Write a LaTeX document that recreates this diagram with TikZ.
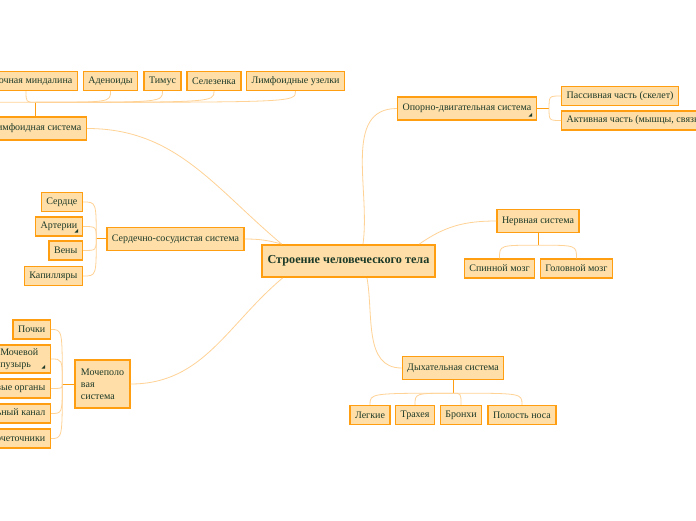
\documentclass[tikz,border=0pt]{standalone}
\usepackage{fontspec}
\setmainfont{Liberation Serif}
\usepackage{tikz}
\usetikzlibrary{calc}
\definecolor{boxc}{RGB}{255,158,16}
\definecolor{fillc}{RGB}{255,222,168}
\definecolor{linkc}{RGB}{255,210,150}
\definecolor{txtc}{RGB}{28,58,40}
\tikzset{
  leaf/.style   = {draw=boxc, line width=1.4pt, fill=fillc, text=txtc,
                   font=\fontsize{10}{12}\selectfont, inner xsep=5pt, inner ysep=0pt,
                   minimum height=19pt},
  branch/.style = {leaf, minimum height=23pt},
  root/.style   = {leaf, line width=2pt, minimum height=32pt, inner xsep=6pt,
                   font=\fontsize{12.2}{14}\selectfont\bfseries},
  link/.style   = {draw=linkc, line width=0.8pt},
  stem/.style   = {draw=boxc, line width=1pt},
  fold/.style   = {fill=txtc},
}

\begin{document}
\begin{tikzpicture}[x=1pt,y=1pt]
\useasboundingbox (0,0) rectangle (696,520);
\fill[white] (0,0) rectangle (696,520);
\clip (0,0) rectangle (696,520);

% centre
\node[root] (root) at (348.5,259) {Строение человеческого тела};

% right side
\node[branch] (opora) at (467,411.5) {Опорно-двигательная система};
\node[leaf, anchor=west] (passive) at (561,424) {Пассивная часть (скелет)};
\node[leaf, anchor=west] (active) at (561,399.5) {Активная часть (мышцы, связки)};

\node[branch] (nerv) at (538,299) {Нервная система};
\node[leaf] (spinal) at (499.5,251.5) {Спинной мозг};
\node[leaf] (brain) at (576.5,251.5) {Головной мозг};

\node[branch] (resp) at (453,152) {Дыхательная система};
\node[leaf] (lungs) at (370,105) {Легкие};
\node[leaf] (trachea) at (415,105) {Трахея};
\node[leaf] (bronchi) at (461,105) {Бронхи};
\node[leaf] (nose) at (522,105) {Полость носа};

% left side
\node[leaf, minimum width=55pt, minimum height=48pt, align=left] (uro) at (102.5,136)
  {Мочеполо\\вая\\система};
\node[leaf, anchor=east] (kidneys) at (51,190.5) {Почки};
\node[leaf, anchor=east, minimum height=28pt, text width=45pt, align=left] (bladder) at (51,161)
  {Мочевой\\пузырь};
\node[leaf, anchor=east] (genital) at (51,131.5) {Половые органы};
\node[leaf, anchor=east] (urethra) at (51,106.5) {Мочеиспускательный канал};
\node[leaf, anchor=east] (ureters) at (51,81.5) {Мочеточники};

\node[branch] (cardio) at (175.5,281) {Сердечно-сосудистая система};
\node[leaf, anchor=east] (heart) at (83,318) {Сердце};
\node[leaf, anchor=east] (arteries) at (83,293.5) {Артерии};
\node[leaf, anchor=east] (veins) at (83,269.5) {Вены};
\node[leaf, anchor=east] (caps) at (83,244) {Капилляры};

\node[branch, anchor=east] (lymph) at (87,391.5) {Лимфоидная система};
\node[leaf, anchor=east] (tonsil) at (78,439) {Глоточная миндалина};
\node[leaf] (adenoids) at (110.5,439) {Аденоиды};
\node[leaf] (thymus) at (162.5,439) {Тимус};
\node[leaf] (spleen) at (214,439) {Селезенка};
\node[leaf] (lnodes) at (295.5,439) {Лимфоидные узелки};
\coordinate (lhidden) at (-70,429.5);

% fold markers
\fill[fold] ($(arteries.south east)+(-5,4)$) -- ++(0,3.5) -- ++(-3.5,-3.5) -- cycle;
\fill[fold] ($(opora.south east)+(-5,4)$) -- ++(0,3.5) -- ++(-3.5,-3.5) -- cycle;
\fill[fold] ($(bladder.south east)+(-6,5)$) -- ++(0,3.5) -- ++(-3.5,-3.5) -- cycle;

% main branches
\draw[link] (lymph.east) to[out=0,in=140] ($(root.north west)+(21,0)$);
\draw[link] (cardio.east) to[out=0,in=165] ($(root.north west)+(21,0)$);
\draw[link] (uro.east) to[out=0,in=220] ($(root.south west)+(22,0)$);
\draw[link] ($(root.north)+(14.5,0)$) to[out=82,in=180] (opora.west);
\draw[link] ($(root.north east)+(-17,0)$) to[out=35,in=180] (nerv.west);
\draw[link] ($(root.south)+(18.5,0)$) to[out=-80,in=180] (resp.west);

% sub-branch junctions
\coordinate (lj) at ($(lymph.north)+(0,14)$);
\coordinate (cj) at ($(cardio.west)+(-10,0)$);
\coordinate (uj) at ($(uro.west)+(-12,0)$);
\coordinate (oj) at ($(opora.east)+(12,0)$);
\coordinate (nj) at ($(nerv.south)+(0,-12)$);
\coordinate (rj) at ($(resp.south)+(0,-13)$);

\draw[stem] (lymph.north) -- (lj);
\draw[stem] (cardio.west) -- (cj);
\draw[stem] (uro.west) -- (uj);
\draw[stem] (opora.east) -- (oj);
\draw[stem] (nerv.south) -- (nj);
\draw[stem] (resp.south) -- (rj);

\foreach \c in {tonsil,adenoids,thymus,spleen,lnodes}
  \draw[link] (lj) .. controls (lj -| \c.south) .. (\c.south);
\draw[link] (lj) .. controls (lj -| lhidden) .. (lhidden);
\foreach \c in {heart,arteries,veins,caps}
  \draw[link] (cj) .. controls (cj |- \c.east) .. (\c.east);
\foreach \c in {kidneys,bladder,genital,urethra,ureters}
  \draw[link] (uj) .. controls (uj |- \c.east) .. (\c.east);
\foreach \c in {passive,active}
  \draw[link] (oj) .. controls (oj |- \c.west) .. (\c.west);
\foreach \c in {spinal,brain}
  \draw[link] (nj) .. controls (nj -| \c.north) .. (\c.north);
\foreach \c in {lungs,trachea,bronchi,nose}
  \draw[link] (rj) .. controls (rj -| \c.north) .. (\c.north);

\end{tikzpicture}
\end{document}
